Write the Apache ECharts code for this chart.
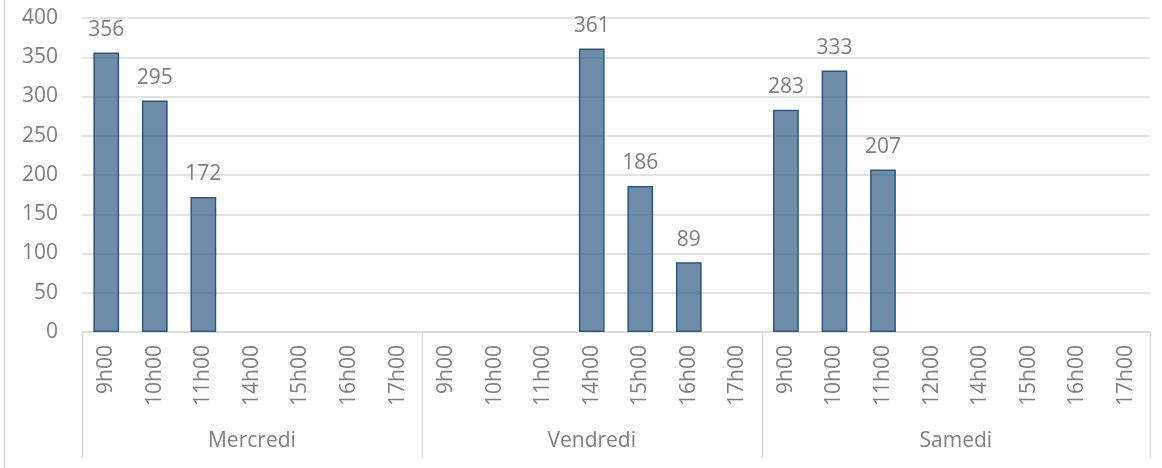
<!DOCTYPE html>
<html><head><meta charset="utf-8">
<script src="https://cdn.jsdelivr.net/npm/echarts@6/dist/echarts.min.js"></script>
<style>html,body{margin:0;padding:0;background:#fff}#c{width:1162px;height:468px}</style>
</head><body><div id="c"></div>
<script>
const groups = ['Mercredi', 'Vendredi', 'Samedi'];
const mercrediHours = ['9h00','10h00','11h00','14h00','15h00','16h00','17h00'];
const vendrediHours = ['9h00','10h00','11h00','14h00','15h00','16h00','17h00'];
const samediHours = ['9h00','10h00','11h00','12h00','14h00','15h00','16h00','17h00'];
const mercrediValues = [356, 295, 172, null, null, null, null];
const vendrediValues = [null, null, null, 361, 186, 89, null];
const samediValues = [283, 333, 207, null, null, null, null, null];
const yTicks = [0, 50, 100, 150, 200, 250, 300, 350, 400];

const hourLists = [mercrediHours, vendrediHours, samediHours];
const categories = [].concat(mercrediHours, vendrediHours, samediHours);
const values = [].concat(mercrediValues, vendrediValues, samediValues);

const FONT = '"Open Sans", sans-serif';
const GRAY = '#7f7f7f';
const LINE = '#d9d9d9';

const chart = echarts.init(document.getElementById('c'), null, {renderer: 'canvas'});
chart.setOption({
  animation: false,
  grid: {left: 82, right: 12, top: 18, bottom: 136, containLabel: false},
  xAxis: {
    type: 'category',
    data: categories,
    axisLine: {lineStyle: {color: LINE, width: 1.5}},
    axisTick: {show: false},
    axisLabel: {rotate: 90, interval: 0, margin: 13, color: GRAY, fontSize: 21, fontFamily: FONT}
  },
  yAxis: {
    type: 'value', min: yTicks[0], max: yTicks[yTicks.length - 1], interval: 50,
    axisLine: {show: false}, axisTick: {show: false},
    axisLabel: {margin: 24, color: GRAY, fontSize: 21, fontFamily: FONT},
    splitLine: {lineStyle: {color: LINE, width: 1.5}}
  },
  series: [{
    type: 'bar', data: values, barWidth: '53%', z: 1,
    itemStyle: {color: 'rgba(46,91,134,0.7)', borderColor: '#2a5685', borderWidth: 1.5},
    label: {show: true, position: 'top', distance: 12, color: GRAY, fontSize: 21, fontFamily: FONT}
  }]
});

// group separators and labels, positioned from the category axis scale
const g = [];
let start = 0;
const yAxisPx = chart.convertToPixel({yAxisIndex: 0}, 0);
const half = (chart.convertToPixel({xAxisIndex: 0}, 1) - chart.convertToPixel({xAxisIndex: 0}, 0)) / 2;
const bounds = [];
hourLists.forEach((list, i) => {
  const x0 = chart.convertToPixel({xAxisIndex: 0}, start) - half;
  const x1 = chart.convertToPixel({xAxisIndex: 0}, start + list.length - 1) + half;
  bounds.push(x0); if (i === hourLists.length - 1) bounds.push(x1);
  g.push({type: 'text', x: (x0 + x1) / 2, y: 441, style: {text: groups[i], fill: GRAY, font: '21px ' + FONT, align: 'center', verticalAlign: 'middle'}});
  start += list.length;
});
bounds.forEach(x => {
  g.push({type: 'line', shape: {x1: Math.round(x) + 0.5, y1: yAxisPx, x2: Math.round(x) + 0.5, y2: 458}, style: {stroke: LINE, lineWidth: 1.5}});
});
g.push({type: 'line', shape: {x1: 4.5, y1: 0, x2: 4.5, y2: 468}, style: {stroke: LINE, lineWidth: 1.5}});
chart.setOption({graphic: g});
</script></body></html>
